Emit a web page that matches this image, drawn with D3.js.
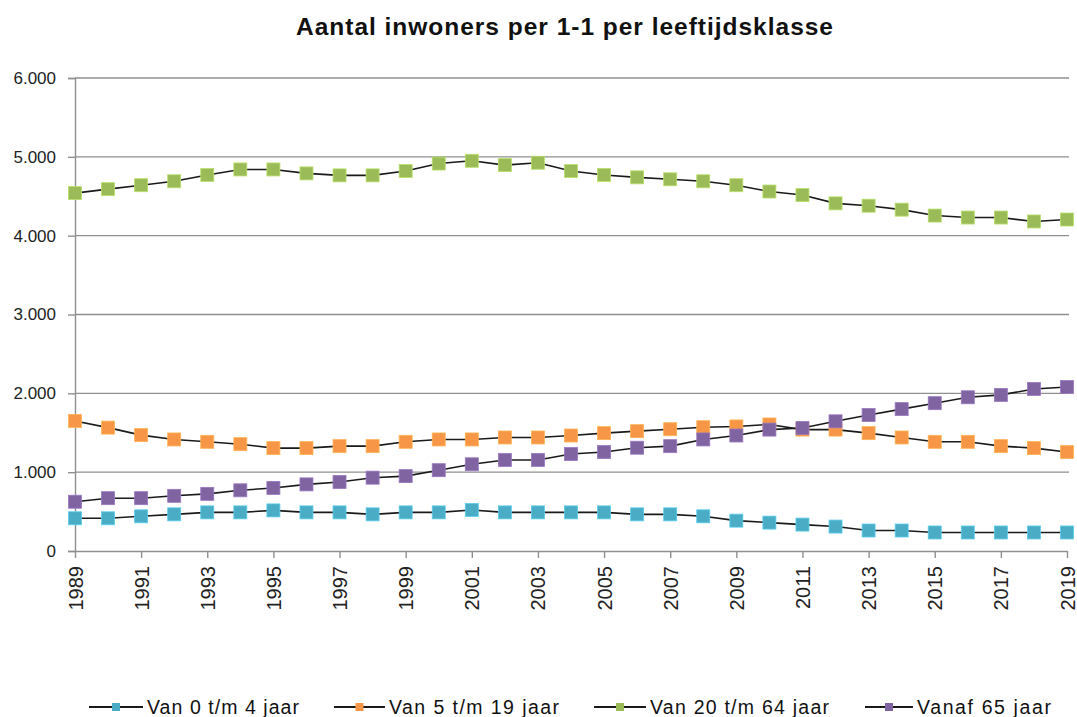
<!DOCTYPE html>
<html>
<head>
<meta charset="utf-8">
<script src="https://cdn.jsdelivr.net/npm/d3@7"></script>
<style>
  html, body { margin: 0; padding: 0; background: #fff; }
  svg { display: block; font-family: Arial, "Liberation Sans", sans-serif; }
</style>
</head>
<body>
<svg id="chart" width="1077" height="717"></svg>
<script>
const title = "Aantal inwoners per 1-1 per leeftijdsklasse";
const years = [1989,1990,1991,1992,1993,1994,1995,1996,1997,1998,1999,2000,2001,2002,2003,2004,2005,2006,2007,2008,2009,2010,2011,2012,2013,2014,2015,2016,2017,2018,2019];
const seriesNames = ["Van 0 t/m 4 jaar", "Van 5 t/m 19 jaar", "Van 20 t/m 64 jaar", "Vanaf 65 jaar"];
const age0to4 = [415,415,440,465,490,490,515,490,490,465,490,490,520,490,490,490,490,465,465,440,385,360,335,310,260,260,235,235,235,235,235];
const age5to19 = [1650,1565,1470,1415,1385,1355,1305,1305,1330,1330,1385,1415,1415,1440,1440,1465,1495,1520,1545,1570,1580,1605,1540,1540,1495,1440,1385,1385,1330,1305,1255];
const age20to64 = [4540,4590,4640,4690,4770,4840,4840,4790,4765,4765,4820,4915,4950,4895,4925,4820,4770,4740,4715,4690,4640,4560,4515,4410,4380,4330,4255,4230,4230,4180,4205];
const age65plus = [625,670,670,700,725,770,800,845,875,930,950,1025,1100,1155,1155,1230,1255,1310,1330,1415,1465,1540,1560,1645,1725,1800,1875,1950,1980,2055,2080];
const yTicks = [0,1000,2000,3000,4000,5000,6000];
const xTickYears = years.filter(y => (y - 1989) % 2 === 0);
const colors = ["#4BACC6", "#F79646", "#9BBB59", "#8064A2"];

const seriesValues = [age0to4, age5to19, age20to64, age65plus];

const svg = d3.select("#chart");
const x = d3.scaleLinear().domain([1989, 2019]).range([75, 1067]);
const y = d3.scaleLinear().domain([0, 6000]).range([551, 78]);
const fmt = v => v === 0 ? "0" : d3.format(",")(v).replace(/,/g, ".");

// Title
svg.append("text")
  .attr("x", 296).attr("y", 35)
  .attr("font-size", 24.5).attr("font-weight", "bold")
  .attr("textLength", 537).attr("lengthAdjust", "spacing")
  .attr("fill", "#111")
  .text(title);

// Gridlines
svg.append("g").selectAll("line").data(yTicks.filter(d => d > 0)).join("line")
  .attr("x1", 75).attr("x2", 1069)
  .attr("y1", d => y(d)).attr("y2", d => y(d))
  .attr("stroke", "#8f8f8f").attr("stroke-width", 1.4);

// Y axis
const yAxis = d3.axisLeft(y).tickValues(yTicks).tickFormat(fmt).tickSize(7).tickPadding(12);
const gy = svg.append("g").attr("transform", "translate(75,0)").call(yAxis);
gy.select(".domain").attr("stroke", "#8f8f8f").attr("stroke-width", 1.4);
gy.selectAll(".tick line").attr("stroke", "#8f8f8f").attr("stroke-width", 1.4);
gy.selectAll(".tick text").attr("font-size", 17).attr("fill", "#222")
  .attr("font-family", "Arial, 'Liberation Sans', sans-serif");

// X axis
const xAxis = d3.axisBottom(x).tickValues(xTickYears).tickFormat(d3.format("d")).tickSize(7).tickSizeOuter(0);
const gx = svg.append("g").attr("transform", "translate(0,551)").call(xAxis);
gx.select(".domain").attr("stroke", "#8f8f8f").attr("stroke-width", 1.4);
gx.selectAll(".tick line").attr("stroke", "#8f8f8f").attr("stroke-width", 1.4);
gx.selectAll(".tick text")
  .attr("font-size", 20).attr("fill", "#222")
  .attr("font-family", "Arial, 'Liberation Sans', sans-serif")
  .attr("text-anchor", "end")
  .attr("transform", "translate(0,15) rotate(-90)")
  .attr("x", 0).attr("y", 0).attr("dy", "0.35em");

// Series
const line = d3.line().x((d, i) => x(years[i])).y(d => y(d));
const ms = 13;
seriesValues.forEach((vals, si) => {
  const g = svg.append("g");
  g.append("path").datum(vals)
    .attr("d", line)
    .attr("fill", "none").attr("stroke", "#1a1a1a").attr("stroke-width", 1.6);
  g.selectAll("rect").data(vals).join("rect")
    .attr("x", (d, i) => x(years[i]) - ms / 2)
    .attr("y", d => y(d) - ms / 2)
    .attr("width", ms).attr("height", ms)
    .attr("fill", colors[si])
    .attr("stroke", d3.color(colors[si]).brighter(0.5))
    .attr("stroke-width", 0.8);
});

// Legend
const legendLineX = [89, 334, 594, 865];
const legendTextX = [147, 389, 650, 917];
const legendTextW = [152, 170, 179, 134];
const lg = svg.append("g");
seriesNames.forEach((name, i) => {
  const x0 = legendLineX[i];
  const x1 = legendTextX[i] - 4;
  lg.append("line").attr("x1", x0).attr("x2", x1).attr("y1", 707).attr("y2", 707)
    .attr("stroke", "#1a1a1a").attr("stroke-width", 2);
  const cx = (x0 + x1) / 2;
  lg.append("rect").attr("x", cx - 4).attr("y", 703).attr("width", 8).attr("height", 8)
    .attr("fill", colors[i]);
  lg.append("text").attr("x", legendTextX[i]).attr("y", 714)
    .attr("font-size", 19.5).attr("fill", "#111")
    .attr("textLength", legendTextW[i]).attr("lengthAdjust", "spacing")
    .text(name);
});
</script>
</body>
</html>
